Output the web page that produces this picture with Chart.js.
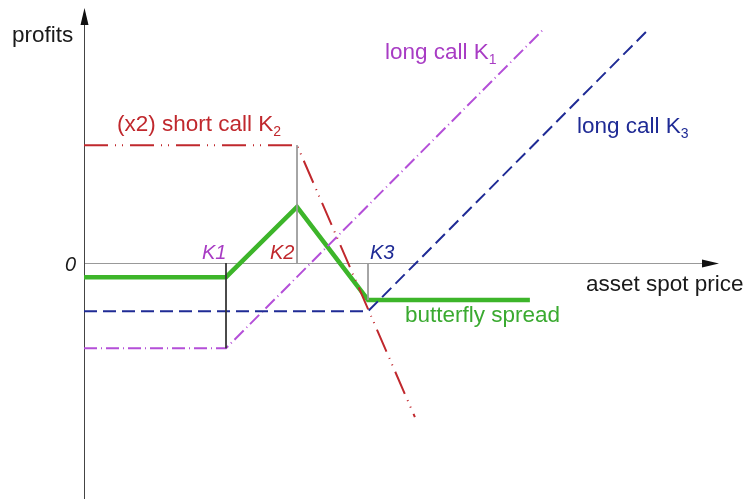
<!DOCTYPE html>
<html>
<head>
<meta charset="utf-8">
<script src="https://cdn.jsdelivr.net/npm/chart.js@4.4.1/dist/chart.umd.min.js"></script>
<style>
  html, body { margin: 0; padding: 0; background: #fff; }
  #payoff { display: block; }
</style>
</head>
<body>
<canvas id="payoff" width="750" height="499"></canvas>
<script>
// strike prices K1, K2, K3 (spot price units)
const strikes = [2, 3, 4];

// profit at each break point
const butterflyX = [0, 2, 3, 4, 6.28];
const butterflyY = [-0.2, -0.2, 0.79, -0.52, -0.52];

const longCallK1X = [0, 2, 6.46];
const longCallK1Y = [-1.2, -1.2, 3.28];

const longCallK3X = [0, 4, 7.94];
const longCallK3Y = [-0.68, -0.68, 3.28];

const shortCallK2X = [0, 3, 4.66];
const shortCallK2Y = [1.66, 1.66, -2.17];

// thin drop lines at the strikes
const guideTop = [0, 1.66, 0];
const guideBottom = [-1.2, 0, -0.52];

const FONT = '"Liberation Sans", Arial, sans-serif';

function pts(xs, ys) {
    return xs.map((x, i) => ({ x: x, y: ys[i] }));
}

function lineSet(xs, ys, color, width, dash) {
    return {
        data: pts(xs, ys),
        showLine: true,
        borderColor: color,
        borderWidth: width,
        borderDash: dash,
        pointRadius: 0,
        fill: false,
        tension: 0
    };
}

const datasets = [];
strikes.forEach((k, i) => {
    datasets.push(lineSet([k, k], [guideTop[i], guideBottom[i]], i === 0 ? '#333' : '#999', 1, []));
});
datasets.push(lineSet(longCallK3X, longCallK3Y, '#1f2b95', 2, [13, 6]));
datasets.push(lineSet(longCallK1X, longCallK1Y, '#b44fd8', 2, [13, 4, 1, 4]));
datasets.push(lineSet(shortCallK2X, shortCallK2Y, '#c0282d', 2, [24, 7, 1, 6, 1, 7]));
datasets.push(lineSet(butterflyX, butterflyY, '#3db52a', 4.5, []));

// axes with arrow heads, drawn under the lines
const axesPlugin = {
    id: 'axes',
    beforeDatasetsDraw(chart) {
        const c = chart.ctx;
        const sx = chart.scales.x, sy = chart.scales.y;
        const x0 = sx.getPixelForValue(0);
        const y0 = sy.getPixelForValue(0);
        c.save();
        c.lineWidth = 1;
        c.strokeStyle = '#999';
        c.beginPath();
        c.moveTo(x0, y0 + 0.5);
        c.lineTo(708, y0 + 0.5);
        c.stroke();
        c.strokeStyle = '#444';
        c.beginPath();
        c.moveTo(x0 + 0.5, 499);
        c.lineTo(x0 + 0.5, 20);
        c.stroke();
        c.fillStyle = '#111';
        c.beginPath();
        c.moveTo(719, y0 + 0.5);
        c.lineTo(702, y0 - 3.5);
        c.lineTo(702, y0 + 4.5);
        c.closePath();
        c.fill();
        c.beginPath();
        c.moveTo(x0 + 0.5, 8);
        c.lineTo(x0 - 3.5, 25);
        c.lineTo(x0 + 4.5, 25);
        c.closePath();
        c.fill();
        c.restore();
    },
    afterDatasetsDraw(chart) {
        const c = chart.ctx;
        c.save();
        c.textBaseline = 'alphabetic';
        c.textAlign = 'left';

        function label(text, sub, x, y, color) {
            c.font = '22.5px ' + FONT;
            c.fillStyle = color;
            c.fillText(text, x, y);
            if (sub) {
                const w = c.measureText(text).width;
                c.font = '14px ' + FONT;
                c.fillText(sub, x + w, y + 5);
            }
        }
        label('profits', '', 12, 42, '#1a1a1a');
        label('asset spot price', '', 586, 291, '#1a1a1a');
        label('(x2) short call K', '2', 117, 131, '#c0282d');
        label('long call K', '1', 385, 59, '#a83cc4');
        label('long call K', '3', 577, 133, '#1f2b95');
        label('butterfly spread', '', 405, 322, '#3aaa30');

        c.font = 'italic 20px ' + FONT;
        c.fillStyle = '#1a1a1a';
        c.fillText('0', 65, 271);
        c.fillStyle = '#a83cc4';
        c.fillText('K1', 202, 259);
        c.fillStyle = '#c0282d';
        c.fillText('K2', 270, 259);
        c.fillStyle = '#1f2b95';
        c.fillText('K3', 370, 259);
        c.restore();
    }
};

// 1 unit = 71 px on both axes, origin at (84, 263)
new Chart(document.getElementById('payoff').getContext('2d'), {
    type: 'scatter',
    data: { datasets: datasets },
    options: {
        responsive: false,
        animation: false,
        layout: { padding: 0 },
        plugins: { legend: { display: false }, tooltip: { enabled: false } },
        scales: {
            x: { type: 'linear', display: false, min: -84 / 71, max: (750 - 84) / 71 },
            y: { type: 'linear', display: false, min: -(499 - 263) / 71, max: 263 / 71 }
        }
    },
    plugins: [axesPlugin]
});
</script>
</body>
</html>
